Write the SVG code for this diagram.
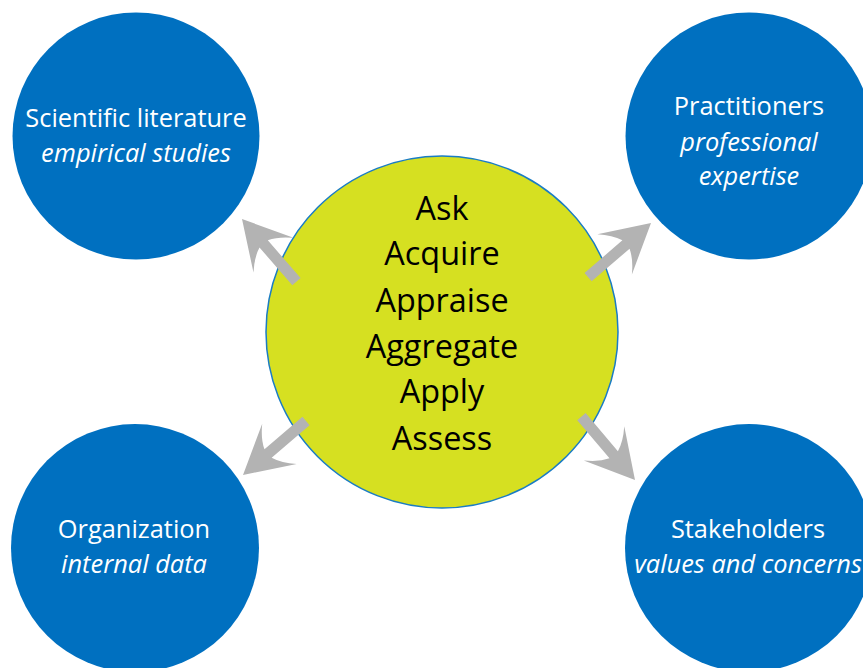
<svg xmlns="http://www.w3.org/2000/svg" xmlns:xlink="http://www.w3.org/1999/xlink" width="863" height="668" viewBox="0 0 863 668">
  <style>
    .source { fill: #0070c0; }
    .hub { fill: #d6e021; stroke: #1a7cc4; stroke-width: 1.5; }
    .title { font-family: "Open Sans", "Liberation Sans", sans-serif; font-size: 25.4px; fill: #ffffff; text-anchor: middle; }
    .sub { font-style: italic; }
    .step { font-family: "Open Sans", "Liberation Sans", sans-serif; font-size: 32.4px; fill: #000000; text-anchor: middle; }
    .arrow { fill: #b3b3b3; }
  </style>
  <defs>
    <!-- block arrow pointing along +x, tip at the origin, tail at x = -83 -->
    <path id="block-arrow" class="arrow" d="M0,0 L-48,-26.5 Q-37,-16 -33,-5.5 L-83,-5.5 L-83,5.5 L-33,5.5 Q-37,16 -48,26.5 Z"/>
  </defs>

  <rect width="863" height="668" fill="#ffffff"/>

  <g id="scientific-literature">
    <circle class="source" cx="136" cy="136" r="123.5"/>
    <text class="title" x="136" y="127">Scientific literature</text>
    <text class="title sub" x="136" y="162">empirical studies</text>
  </g>

  <g id="practitioners">
    <circle class="source" cx="749" cy="136" r="123.5"/>
    <text class="title" x="749" y="115">Practitioners</text>
    <text class="title sub" x="749" y="151">professional</text>
    <text class="title sub" x="749" y="185">expertise</text>
  </g>

  <g id="organization">
    <circle class="source" cx="135" cy="548" r="124"/>
    <text class="title" x="134" y="538">Organization</text>
    <text class="title sub" x="134" y="573">internal data</text>
  </g>

  <g id="stakeholders">
    <circle class="source" cx="749" cy="548" r="124"/>
    <text class="title" x="748" y="538">Stakeholders</text>
    <text class="title sub" x="748" y="573">values and concerns</text>
  </g>

  <g id="evidence-steps">
    <circle class="hub" cx="442" cy="332" r="176"/>
    <text class="step" x="442" y="220">Ask</text>
    <text class="step" x="442" y="265">Acquire</text>
    <text class="step" x="442" y="312">Appraise</text>
    <text class="step" x="442" y="358">Aggregate</text>
    <text class="step" x="442" y="403">Apply</text>
    <text class="step" x="442" y="450">Assess</text>
  </g>

  <!-- arrows start on the hub and point out to each source -->
  <g id="connectors">
    <use xlink:href="#block-arrow" transform="translate(242,219) rotate(-131)"/>
    <use xlink:href="#block-arrow" transform="translate(651,223) rotate(-40.7)"/>
    <use xlink:href="#block-arrow" transform="translate(243,475) rotate(139.4)"/>
    <use xlink:href="#block-arrow" transform="translate(635,480) rotate(49.8)"/>
  </g>
</svg>
